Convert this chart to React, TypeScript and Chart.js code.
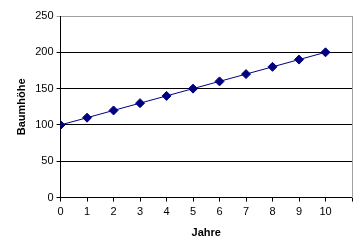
import React, { useEffect, useRef } from "react";
import { Chart, registerables } from "chart.js";

Chart.register(...registerables);

const years = [0, 1, 2, 3, 4, 5, 6, 7, 8, 9, 10];
const heights = [100, 110, 120, 130, 140, 150, 160, 170, 180, 190, 200];
const xTitle = "Jahre";
const yTitle = "Baumhöhe";

export default function App() {
  const ref = useRef<HTMLCanvasElement>(null);
  useEffect(() => {
    document.body.style.margin = "0";
    const font = { family: "'Liberation Sans', Arial, sans-serif", size: 11 };
    const chart = new Chart(ref.current!, {
      type: "line",
      data: {
        datasets: [
          {
            data: years.map((x, i) => ({ x, y: heights[i] })),
            borderColor: "#000080",
            backgroundColor: "#000080",
            borderWidth: 1,
            pointStyle: "rectRot",
            pointRadius: 4.5,
            pointBorderWidth: 1,
          },
        ],
      },
      options: {
        animation: false,
        responsive: false,
        events: [],
        layout: { padding: { left: 15, right: 0, top: 16, bottom: 5 } },
        plugins: { legend: { display: false }, tooltip: { enabled: false } },
        scales: {
          x: {
            type: "linear",
            min: 0,
            max: 11,
            ticks: {
              stepSize: 1,
              color: "#000",
              font,
              padding: 4,
              callback: (v: any) => (v === 11 ? "" : String(v)),
              maxRotation: 0,
            },
            grid: { display: true, drawOnChartArea: false, drawTicks: true, tickLength: 4, color: "#000" },
            border: { color: "#000", width: 1 },
            title: { display: true, text: xTitle, color: "#000", font: { ...font, weight: "bold" }, padding: { top: 4, bottom: 0 } },
          },
          y: {
            min: 0,
            max: 250,
            ticks: { stepSize: 50, color: "#000", font, padding: 3 },
            grid: {
              color: (ctx: any) => (ctx.tick && ctx.tick.value === 250 ? "#a0a0a0" : "#000"),
              tickLength: 4,
              drawTicks: true,
            },
            border: { color: "#000", width: 1 },
            title: { display: true, text: yTitle, color: "#000", font: { ...font, weight: "bold" }, padding: { top: 0, bottom: 4 } },
          },
          y2: {
            position: "right",
            min: 0,
            max: 250,
            ticks: { display: false },
            grid: { display: false },
            border: { color: "#a0a0a0", width: 1 },
          },
        },
      } as any,
    });
    return () => chart.destroy();
  }, []);
  return (
    <div style={{ width: 360, height: 245 }}>
      <canvas ref={ref} width={360} height={245} style={{ background: "#fff" }} />
    </div>
  );
}
